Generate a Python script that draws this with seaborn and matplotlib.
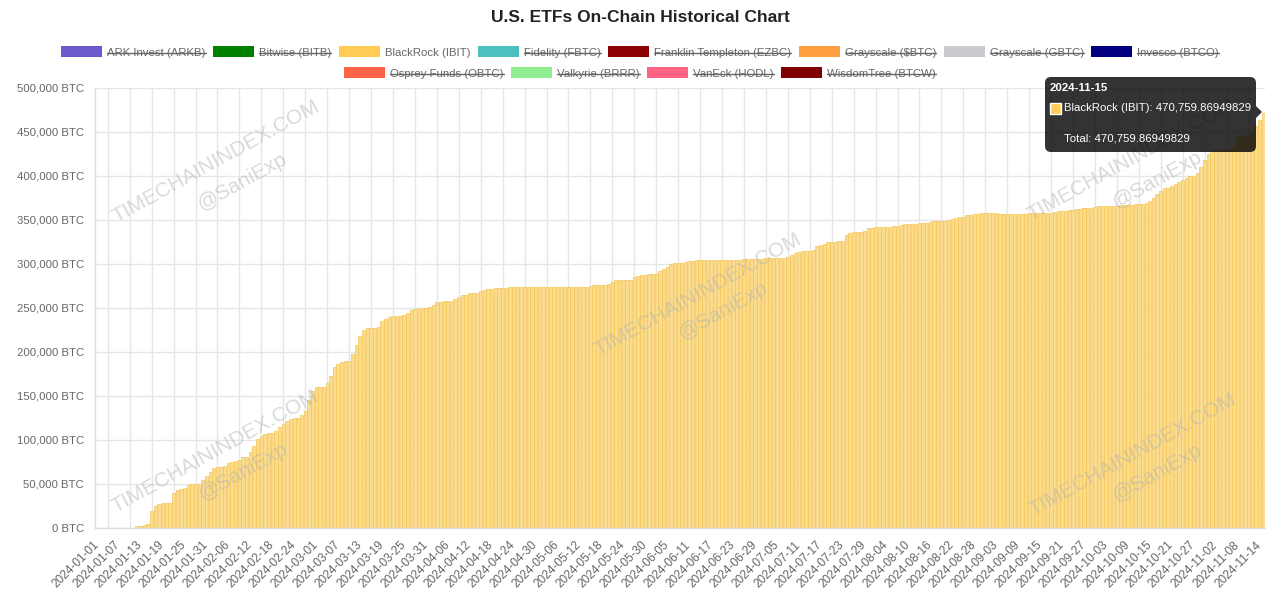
import numpy as np
import pandas as pd
import seaborn as sns
import matplotlib.pyplot as plt
from matplotlib.patches import Patch, FancyBboxPatch, Rectangle, Polygon
from matplotlib.lines import Line2D
from matplotlib.ticker import FuncFormatter, FixedLocator
from matplotlib.transforms import IdentityTransform

# BlackRock (IBIT) on-chain holdings per day, in thousand BTC
jan = [0, 0, 0, 0, 0, 0, 0, 0, 0, 0, 0, 2.1, 2.6, 3.2, 4.0, 19.5, 24.5, 27.5, 28.0, 28.0,
       28.0, 39.5, 43.0, 44.0, 45.5, 49.0, 49.5, 49.5, 50.5, 55.0, 59.0]
feb = [63.0, 68.0, 69.0, 69.0, 70.0, 74.0, 75.0, 76.0, 77.5, 81.0, 81.0, 86.0, 93.0, 101.5, 104.0,
       107.0, 108.0, 108.0, 110.0, 115.0, 118.0, 121.0, 124.0, 125.0, 125.0, 128.0, 133.0, 145.0, 155.0]
mar = [160, 160, 160, 165, 172, 183, 186, 188, 189, 189, 197, 208, 218, 225, 227, 227,
       227, 228, 235, 237, 240, 241, 241, 241, 242, 244, 248, 249, 249.5, 249.5, 249.5]
apr = [250.5, 253, 256, 257, 258, 258, 258, 260, 262, 264, 265, 267, 267, 267, 269,
       270, 271, 271.5, 272, 272, 272, 272.5, 273, 273.5, 273.5, 273.5, 273.5, 273.5, 273.5, 273.5]
may = [273, 273, 273, 273, 273, 273, 273, 273, 273, 273.5, 273.5, 273.5, 273.5, 274, 274.5, 275.5,
       276, 276, 276, 277, 279, 281, 281.5, 282, 282, 282, 285, 286.5, 287, 287.5, 288]
jun = [288, 288, 292, 294, 296, 300, 301, 301, 301, 302, 303, 303.5, 304, 304, 304,
       304, 304, 304, 304, 304, 304, 304, 304, 304, 304.5, 305, 305, 305, 305, 305]
jul = [305.5, 306, 306.5, 306.5, 307, 307, 307, 307.5, 310, 312, 313.5, 314, 314, 314, 315, 320,
       321.5, 322.5, 324.5, 325, 325, 325.5, 326, 333, 335, 336, 336, 336, 337, 340, 341]
aug = [341.5, 342, 342, 342, 342, 342.5, 343, 344, 345, 345, 345, 345.5, 346, 346, 346.5, 347,
       348, 348, 348.5, 349, 349.5, 351, 352, 353, 353, 355, 355.5, 356, 356.5, 357, 357]
sep = [357, 357, 357, 356.5, 356.5, 356, 356, 356, 356, 356.5, 356.5, 357, 357, 357, 357,
       357, 357.5, 358, 358.5, 359.5, 359.5, 359.5, 360.5, 361.5, 362, 362.5, 363.5, 363.5, 363.5, 364]
oct_ = [365, 365.5, 365.5, 366, 366, 366, 366.5, 367, 367, 367, 367.5, 367.5, 367.5, 369, 371, 375,
        379, 383, 386, 386, 388, 391, 393, 395, 397, 400, 400, 403, 410, 418, 425]
nov = [428, 429, 429, 429, 429.5, 430, 432, 444, 445, 445, 446, 448, 456, 463, 470.75986949829]

start_date = '2024-01-01'
end_date = '2024-11-15'

# Legend entries (only BlackRock is switched on)
funds = ['ARK Invest (ARKB)', 'Bitwise (BITB)', 'BlackRock (IBIT)', 'Fidelity (FBTC)',
         'Franklin Templeton (EZBC)', r'Grayscale (\$BTC)', 'Grayscale (GBTC)', 'Invesco (BTCO)',
         'Osprey Funds (OBTC)', 'Valkyrie (BRRR)', 'VanEck (HODL)', 'WisdomTree (BTCW)']
fund_colors = ['#6a5acd', '#008000', '#ffcd56', '#4bc0c0', '#8b0000', '#ff9f40', '#c9cbcf', '#000080',
               '#ff6347', '#90ee90', '#ff6384', '#800000']
shown = ['BlackRock (IBIT)']

dates = pd.date_range(start_date, end_date, freq='D')
holdings = np.array(jan + feb + mar + apr + may + jun + jul + aug + sep + oct_ + nov) * 1000
df = pd.DataFrame({'date': dates.strftime('%Y-%m-%d'), 'btc': holdings})

sns.set_style('white')
plt.rcParams['font.family'] = ['Liberation Sans', 'DejaVu Sans']

W, H = 1280, 597
fig = plt.figure(figsize=(W / 100, H / 100), dpi=100)
ax = fig.add_axes([95 / W, 1 - 528 / H, 1170 / W, 440.5 / H])

grid_col = '#e6e6e6'
text_col = '#666666'

# Bars
sns.barplot(data=df, x='date', y='btc', color='#fbdc8e', saturation=1, width=0.9,
            edgecolor='#f4c654', linewidth=0.5, errorbar=None, ax=ax)

ax.set_xlim(-0.5, len(df) - 0.5)
ax.set_ylim(0, 500000)
ax.set_xlabel('')
ax.set_ylabel('')

# y axis
ax.yaxis.set_major_locator(FixedLocator(range(0, 500001, 50000)))
ax.yaxis.set_major_formatter(FuncFormatter(lambda v, p: f'{v:,.0f} BTC'))
ax.tick_params(axis='y', length=5.5, color=grid_col, labelsize=8.2, labelcolor=text_col, pad=2.5)

# x axis: a label every 6th day, grid lines half way between labels
label_idx = np.arange(0, len(df), 6)
ax.set_xticks(label_idx)
ax.set_xticklabels(df['date'].iloc[label_idx], rotation=45, ha='right', va='center',
                   rotation_mode='anchor')
ax.set_xticks(label_idx[1:] - 3, minor=True)
ax.tick_params(axis='x', which='major', length=0, pad=11, labelsize=8.6, labelcolor=text_col)
ax.tick_params(axis='x', which='minor', length=6, color=grid_col, width=1)

ax.grid(axis='y', which='major', color=grid_col, lw=1)
ax.grid(axis='x', which='minor', color=grid_col, lw=1)
ax.set_axisbelow(True)
for s in ['top', 'right']:
    ax.spines[s].set_visible(False)
for s in ['left', 'bottom']:
    ax.spines[s].set_color('#dddddd')
    ax.spines[s].set_linewidth(1)

# Title
fig.text(0.5, 1 - 17 / H, 'U.S. ETFs On-Chain Historical Chart', ha='center', va='center',
         fontsize=12.5, fontweight='bold', color='#222222')

# Legend in two centred rows
handles = [Patch(facecolor=c, edgecolor='none') for c in fund_colors]
leg_kw = dict(loc='center', ncol=8, frameon=False, fontsize=8.2, handlelength=3.6, handleheight=1.1,
              handletextpad=0.45, columnspacing=0.65, labelcolor=text_col, borderpad=0, borderaxespad=0)
row1 = fig.legend(handles[:8], funds[:8], bbox_to_anchor=(0.5, 1 - 52 / H), **leg_kw)
leg_kw['ncol'] = 4
row2 = fig.legend(handles[8:], funds[8:], bbox_to_anchor=(0.5, 1 - 73 / H), **leg_kw)

# Watermarks
marks = [(216, 162, 242, 182), (698, 295, 723, 311), (215, 452, 243, 472),
         (1131, 160, 1157, 180), (1133, 455, 1157, 473)]
for x1, y1, x2, y2 in marks:
    fig.text(x1 / W, 1 - y1 / H, 'TIMECHAININDEX.COM', rotation=29, rotation_mode='anchor',
             ha='center', va='center', fontsize=15, color='#b4b4b4', alpha=0.5, zorder=5)
    fig.text(x2 / W, 1 - y2 / H, '@SaniExp', rotation=29, rotation_mode='anchor',
             ha='center', va='center', fontsize=15, color='#b4b4b4', alpha=0.5, zorder=5)

# Tooltip for the last day
last_date = df['date'].iloc[-1]
last_val = df['btc'].iloc[-1]
px = IdentityTransform()
fig.add_artist(FancyBboxPatch((1045, H - 152), 211, 75, boxstyle='round,pad=0,rounding_size=6',
                              transform=px, facecolor=(0, 0, 0, 0.8), edgecolor='none', zorder=10))
fig.add_artist(Polygon([(1256, H - 106), (1262, H - 112), (1256, H - 118)], closed=True,
                       transform=px, facecolor=(0, 0, 0, 0.8), edgecolor='none', zorder=10))
fig.add_artist(Rectangle((1050, H - 114), 11, 11, transform=px, facecolor='#ffcd56',
                         edgecolor='white', lw=1, zorder=11))
fig.text(1050 / W, 1 - 88 / H, last_date, ha='left', va='center', fontsize=8.2,
         fontweight='bold', color='white', zorder=11)
fig.text(1064 / W, 1 - 108 / H, f'BlackRock (IBIT): {last_val:,.8f}', ha='left', va='center',
         fontsize=8.2, color='white', zorder=11)
fig.text(1064 / W, 1 - 139 / H, f'Total: {last_val:,.8f}', ha='left', va='center',
         fontsize=8.2, color='white', zorder=11)

# Strike through the hidden series in the legend
fig.canvas.draw()
renderer = fig.canvas.get_renderer()
for leg in (row1, row2):
    for txt in leg.get_texts():
        if txt.get_text() in shown:
            continue
        bb = txt.get_window_extent(renderer).transformed(fig.transFigure.inverted())
        ymid = (bb.y0 + bb.y1) / 2
        fig.add_artist(Line2D([bb.x0, bb.x1], [ymid, ymid], transform=fig.transFigure,
                              color=text_col, lw=1))

fig.savefig('out.png', dpi=100)
